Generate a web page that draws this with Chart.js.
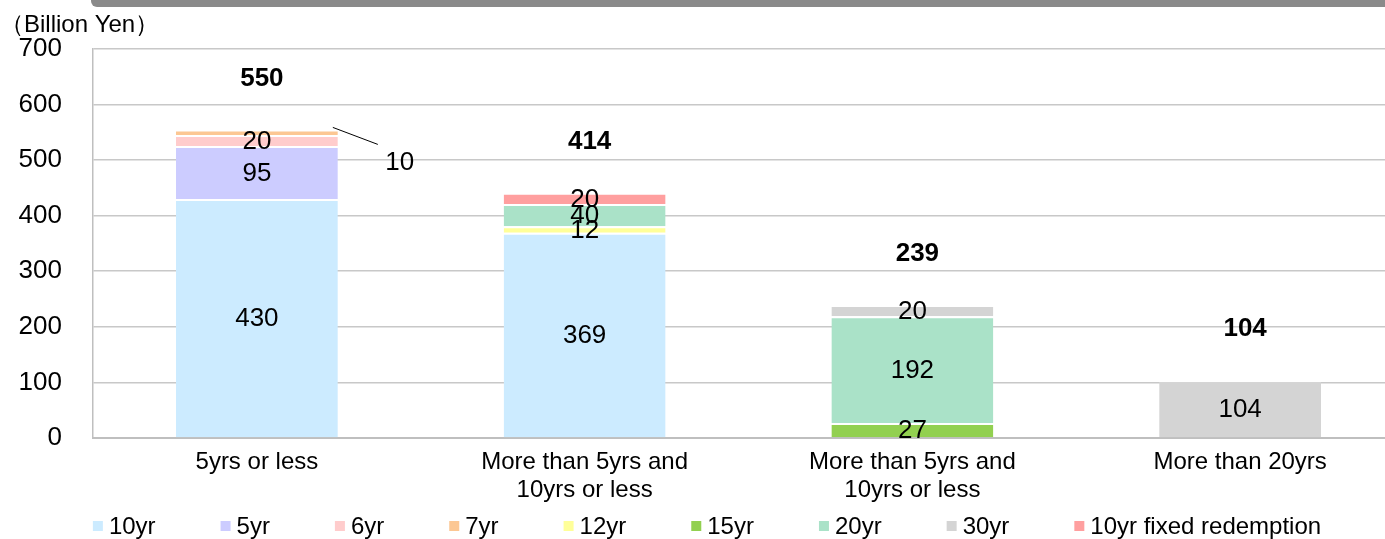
<!DOCTYPE html>
<html>
<head>
<meta charset="utf-8">
<script src="https://cdn.jsdelivr.net/npm/chart.js@4.4.1/dist/chart.umd.min.js"></script>
<style>
  html, body { margin: 0; padding: 0; background: #fff; overflow: hidden; }
  #wrap { position: relative; width: 1385px; height: 539px; overflow: hidden; }
  #topbar { position: absolute; left: 91px; top: 0; width: 1320px; height: 7px;
            background: #8a8a8a; border-bottom-left-radius: 6px; }
  #holder { position: absolute; left: 0; top: 0; width: 1418px; height: 539px; }
</style>
</head>
<body>
<div id="wrap">
  <div id="holder"><canvas id="myChart" width="1418" height="539"></canvas></div>
  <div id="topbar"></div>
</div>
<script>
// categories (x axis, multi-line)
const categories = [
  ["5yrs or less"],
  ["More than 5yrs and", "10yrs or less"],
  ["More than 5yrs and", "10yrs or less"],
  ["More than 20yrs"]
];

// series values, one per category
const yr10 = [430, 369, null, null];
const yr5 = [95, null, null, null];
const yr6 = [20, null, null, null];
const yr7 = [10, null, null, null];
const yr12 = [null, 12, null, null];
const yr15 = [null, null, 27, null];
const yr20 = [null, 40, 192, null];
const yr30 = [null, null, 20, 104];
const yr10fixed = [null, 20, null, null];

// totals as printed above each bar
const totals = [550, 414, 239, 104];

// y axis tick values
const yTicks = [0, 100, 200, 300, 400, 500, 600, 700];

const FONT = '"Liberation Sans", Arial, sans-serif';
const calloutSeries = ["7yr"];   // label drawn beside the bar with a leader line

const series = [
  { label: "10yr", data: yr10, color: "#CCEBFF" },
  { label: "5yr", data: yr5, color: "#CCCCFF" },
  { label: "6yr", data: yr6, color: "#FFCCCC" },
  { label: "7yr", data: yr7, color: "#FCC793" },
  { label: "12yr", data: yr12, color: "#FFFF99" },
  { label: "15yr", data: yr15, color: "#92D050" },
  { label: "20yr", data: yr20, color: "#AAE2C8" },
  { label: "30yr", data: yr30, color: "#D4D4D4" },
  { label: "10yr fixed redemption", data: yr10fixed, color: "#FF9F9F" }
];

// segment values + totals
const labelPlugin = {
  id: "labelPlugin",
  afterDatasetsDraw(chart) {
    const ctx = chart.ctx;
    ctx.save();
    ctx.fillStyle = "#000";
    ctx.textAlign = "center";
    ctx.textBaseline = "middle";
    ctx.font = "26px " + FONT;
    chart.data.datasets.forEach((ds, di) => {
      const meta = chart.getDatasetMeta(di);
      meta.data.forEach((bar, i) => {
        const v = ds.data[i];
        if (v == null) return;
        if (calloutSeries.includes(ds.label)) {
          const right = bar.x + bar.width / 2;
          ctx.strokeStyle = "#000";
          ctx.lineWidth = 1;
          ctx.beginPath();
          ctx.moveTo(right - 5, bar.y - 2);
          ctx.lineTo(right + 40, bar.y + 15);
          ctx.stroke();
          ctx.fillText(String(v), right + 62, bar.y + 33);
        } else {
          ctx.fillText(String(v), bar.x, (bar.y + bar.base) / 2 + 1);
        }
      });
    });
    ctx.font = "bold 26px " + FONT;
    totals.forEach((t, i) => {
      let top = Infinity, x = 0;
      chart.data.datasets.forEach((ds, di) => {
        if (ds.data[i] == null) return;
        const b = chart.getDatasetMeta(di).data[i];
        top = Math.min(top, b.y);
        x = b.x;
      });
      ctx.fillText(String(t), x + 5, top - 51);
    });
    ctx.restore();
  }
};

// legend row along the bottom
const legendPlugin = {
  id: "legendPlugin",
  afterDraw(chart) {
    const ctx = chart.ctx;
    ctx.save();
    ctx.font = "24px " + FONT;
    ctx.textBaseline = "middle";
    ctx.textAlign = "left";
    const box = 10, textGap = 6, itemGap = 65, y = 526;
    const items = chart.data.datasets.map(ds => ({
      text: ds.label, color: ds.backgroundColor, w: ctx.measureText(ds.label).width
    }));
    let total = items.reduce((s, it) => s + box + textGap + it.w, 0) + itemGap * (items.length - 1);
    let x = chart.width / 2 - total / 2 - 2;
    items.forEach(it => {
      ctx.fillStyle = it.color;
      ctx.fillRect(x, y - 5, box, box);
      ctx.fillStyle = "#000";
      ctx.fillText(it.text, x + box + textGap, y + 1);
      x += box + textGap + it.w + itemGap;
    });
    ctx.restore();
  }
};

const ctx = document.getElementById("myChart");
const myChart = new Chart(ctx, {
  type: "bar",
  data: {
    labels: categories,
    datasets: series.map(s => ({
      label: s.label,
      data: s.data,
      backgroundColor: s.color,
      borderColor: "#ffffff",
      borderWidth: { top: 2, left: 0, right: 0, bottom: 0 },
      borderSkipped: false,
      barPercentage: 0.494,
      categoryPercentage: 1.0
    }))
  },
  options: {
    responsive: false,
    animation: false,
    devicePixelRatio: 1,
    layout: { padding: { left: 0, right: 14, top: 0, bottom: 0 } },
    plugins: {
      legend: { display: false },
      tooltip: { enabled: false },
      title: {
        display: true,
        text: "（Billion Yen）",
        align: "start",
        color: "#000",
        font: { family: FONT, size: 24, weight: "normal", lineHeight: 1.2 },
        padding: { top: 11, bottom: 9 }
      }
    },
    scales: {
      x: {
        stacked: true,
        z: 1,
        grid: { display: false, drawTicks: false },
        border: { display: true, color: "#bfbfbf", width: 2 },
        ticks: {
          color: "#000",
          padding: 10,
          maxRotation: 0,
          autoSkip: false,
          font: { family: FONT, size: 24, lineHeight: 1.17 }
        },
        afterFit(scale) { scale.height = 101; }
      },
      y: {
        stacked: true,
        min: 0,
        max: 700,
        afterBuildTicks(scale) { scale.ticks = yTicks.map(v => ({ value: v })); },
        grid: { color: "#c8c8c8", lineWidth: 1.5, drawTicks: false },
        border: { display: true, color: "#bfbfbf", width: 1.5 },
        ticks: {
          color: "#000",
          padding: 31,
          font: { family: FONT, size: 26 }
        },
        afterFit(scale) { scale.width = 93; }
      }
    }
  },
  plugins: [labelPlugin, legendPlugin]
});
</script>
</body>
</html>
